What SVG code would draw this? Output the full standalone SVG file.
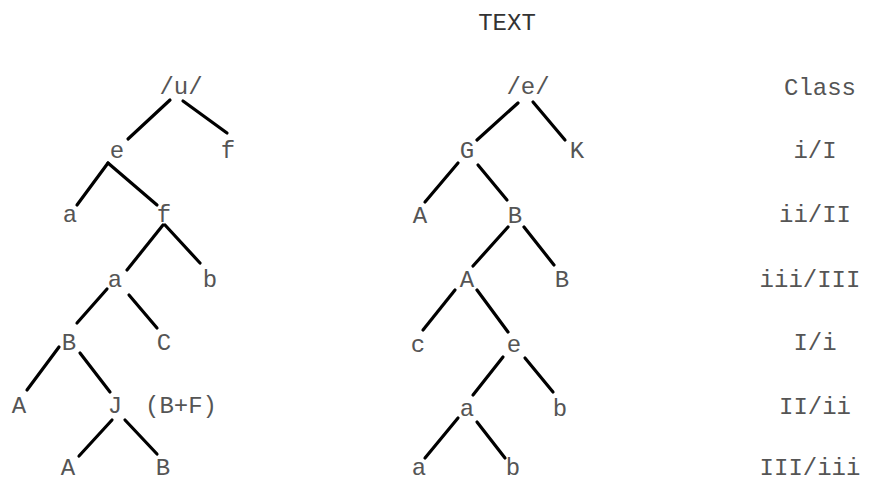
<svg xmlns="http://www.w3.org/2000/svg" width="874" height="483" viewBox="0 0 874 483">
<style>
text{font-family:"Liberation Mono","DejaVu Sans Mono",monospace;font-size:24px;fill:#555;text-anchor:middle}
.t{fill:#333}
#connectors line{stroke:#000;stroke-width:3.2;stroke-linecap:round}
</style>
<rect width="874" height="483" fill="#fff"/>
<g id="title"><text class="t" x="507" y="30">TEXT</text></g>
<g id="connectors">
<line x1="170" y1="100" x2="128" y2="139"/>
<line x1="183" y1="101" x2="227" y2="133"/>
<line x1="108" y1="163" x2="77" y2="205"/>
<line x1="108" y1="163" x2="157" y2="205"/>
<line x1="163" y1="225" x2="127" y2="270"/>
<line x1="165" y1="225" x2="200" y2="263"/>
<line x1="107" y1="289" x2="77" y2="323"/>
<line x1="129" y1="295" x2="157" y2="328"/>
<line x1="59" y1="347" x2="27" y2="390"/>
<line x1="80" y1="353" x2="110" y2="392"/>
<line x1="112" y1="420" x2="79" y2="456"/>
<line x1="125" y1="420" x2="157" y2="454"/>
<line x1="518" y1="103" x2="477" y2="140"/>
<line x1="533" y1="102" x2="565" y2="140"/>
<line x1="458" y1="163" x2="425" y2="202"/>
<line x1="478" y1="165" x2="507" y2="200"/>
<line x1="508" y1="227" x2="473" y2="266"/>
<line x1="524" y1="227" x2="554" y2="265"/>
<line x1="455" y1="290" x2="423" y2="330"/>
<line x1="477" y1="290" x2="508" y2="332"/>
<line x1="503" y1="357" x2="473" y2="395"/>
<line x1="525" y1="358" x2="553" y2="392"/>
<line x1="458" y1="418" x2="425" y2="458"/>
<line x1="477" y1="422" x2="505" y2="458"/>
</g>
<g id="left-u"><text x="181" y="94">/u/</text></g>
<g id="left-e"><text x="117" y="158">e</text></g>
<g id="left-f1"><text x="228" y="158">f</text></g>
<g id="left-a1"><text x="70" y="222">a</text></g>
<g id="left-f2"><text x="164" y="222">f</text></g>
<g id="left-a2"><text x="115" y="287">a</text></g>
<g id="left-b"><text x="210" y="287">b</text></g>
<g id="left-B1"><text x="69" y="350">B</text></g>
<g id="left-C"><text x="164" y="350">C</text></g>
<g id="left-A1"><text x="19" y="413">A</text></g>
<g id="left-J"><text x="115" y="413">J</text><text x="181" y="413">(B+F)</text></g>
<g id="left-A2"><text x="68" y="475">A</text></g>
<g id="left-B2"><text x="163" y="475">B</text></g>
<g id="right-e"><text x="528" y="94">/e/</text></g>
<g id="right-G"><text x="467" y="158">G</text></g>
<g id="right-K"><text x="577" y="158">K</text></g>
<g id="right-A1"><text x="420" y="223">A</text></g>
<g id="right-B1"><text x="515" y="223">B</text></g>
<g id="right-A2"><text x="467" y="287">A</text></g>
<g id="right-B2"><text x="562" y="287">B</text></g>
<g id="right-c"><text x="418" y="352">c</text></g>
<g id="right-e2"><text x="514" y="352">e</text></g>
<g id="right-a1"><text x="467" y="416">a</text></g>
<g id="right-b1"><text x="560" y="416">b</text></g>
<g id="right-a2"><text x="419" y="475">a</text></g>
<g id="right-b2"><text x="513" y="475">b</text></g>
<g id="classes">
<text x="820" y="95">Class</text>
<text x="815" y="158">i/I</text>
<text x="815" y="222">ii/II</text>
<text x="810" y="287">iii/III</text>
<text x="815" y="350">I/i</text>
<text x="815" y="414">II/ii</text>
<text x="810" y="475">III/iii</text>
</g>
</svg>
